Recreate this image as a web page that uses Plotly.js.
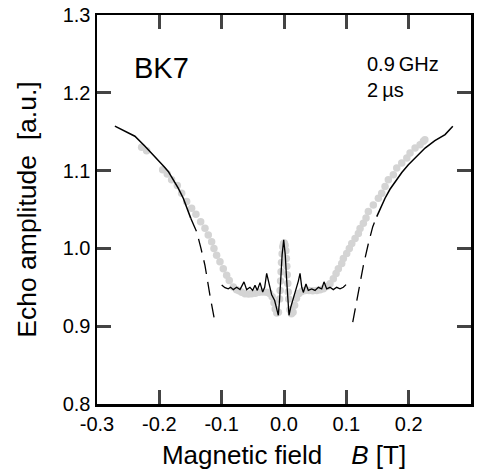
<!DOCTYPE html>
<html>
<head>
<meta charset="utf-8">
<script src="https://cdn.plot.ly/plotly-3.0.1.min.js"></script>
<style>html,body{margin:0;padding:0;background:#fff;}#chart{width:484px;height:472px;}</style>
</head>
<body>
<div id="chart"></div>
<script>
// Measured echo amplitude (grey dots)
const dotsB = [-0.2284,-0.2204,-0.1947,-0.1873,-0.1803,-0.1712,-0.1642,-0.1562,-0.1482,-0.1413,-0.1337,-0.1268,-0.1215,-0.1161,-0.1124,-0.1081,-0.1027,-0.0974,-0.0920,-0.0878,-0.0814,-0.0760,-0.0720,-0.0679,-0.0626,-0.0570,-0.0519,-0.0460,-0.0400,-0.0340,-0.0280,-0.0230,-0.0190,
  -0.0160,-0.0140,-0.0115,-0.0090,-0.0070,-0.0062,-0.0055,-0.0047,-0.0040,-0.0030,-0.0020,-0.0008,0.0005,0.0018,0.0030,0.0038,0.0045,0.0052,0.0060,0.0068,0.0075,0.0095,0.0120,0.0145,0.0170,0.0200,
  0.0240,0.0290,0.0340,0.0400,0.0460,0.0525,0.0580,0.0631,0.0690,0.0738,0.0791,0.0835,0.0872,0.0926,0.0952,0.1006,0.1048,0.1087,0.1140,0.1193,0.1220,0.1273,0.1316,0.1353,0.1433,0.1514,0.1568,0.1621,0.1674,0.1754,0.1809,0.1889,0.1970,0.2022,0.2103,0.2183,0.2236,0.2260];
const dotsAmp = [1.1300,1.1256,1.1010,1.0955,1.0881,1.0809,1.0710,1.0602,1.0516,1.0438,1.0344,1.0258,1.0171,1.0085,1.0000,0.9912,0.9827,0.9740,0.9654,0.9589,0.9504,0.9470,0.9455,0.9435,0.9417,0.9415,0.9417,0.9425,0.9435,0.9440,0.9435,0.9420,0.9380,
  0.9300,0.9220,0.9170,0.9180,0.9350,0.9460,0.9580,0.9700,0.9820,0.9930,1.0020,1.0060,1.0070,1.0040,0.9970,0.9870,0.9770,0.9660,0.9550,0.9440,0.9350,0.9210,0.9160,0.9180,0.9270,0.9360,
  0.9420,0.9450,0.9460,0.9460,0.9455,0.9460,0.9470,0.9482,0.9510,0.9547,0.9611,0.9676,0.9740,0.9805,0.9870,0.9934,0.9999,1.0063,1.0128,1.0193,1.0257,1.0322,1.0390,1.0473,1.0558,1.0645,1.0709,1.0796,1.0881,1.0946,1.1032,1.1097,1.1161,1.1226,1.1291,1.1333,1.1377,1.1398];

// Theory, high-field part (solid), left and right branches separated by null
const thSolidB = [-0.2713,-0.2550,-0.2392,-0.2230,-0.2071,-0.1930,-0.1857,-0.1777,-0.1697,-0.1616,-0.1550,-0.1495, null,
  0.1488,0.1550,0.1621,0.1700,0.1782,0.1890,0.1995,0.2130,0.2263,0.2420,0.2584,0.2708];
const thSolidAmp = [1.1571,1.1508,1.1442,1.1312,1.1183,1.1056,1.0990,1.0890,1.0774,1.0645,1.0500,1.0386, null,
  1.0408,1.0530,1.0645,1.0760,1.0860,1.0975,1.1075,1.1190,1.1290,1.1385,1.1463,1.1570];

// Theory, extrapolated part (dashed)
const thDashB = [-0.1495,-0.1401,-0.1335,-0.1268,-0.1188,-0.1108, null, 0.1103,0.1190,0.1273,0.1350,0.1424,0.1488];
const thDashAmp = [1.0386,1.0214,1.0010,0.9783,0.9395,0.9052, null, 0.9052,0.9420,0.9780,1.0050,1.0279,1.0408];

// Theory, low-field oscillating part
const thLowB = [-0.1000,-0.0947,-0.0894,-0.0856,-0.0813,-0.0760,-0.0706,-0.0642,-0.0599,-0.0546,-0.0503,-0.0465,-0.0428,-0.0385,-0.0342,-0.0310,-0.0278,-0.0250,-0.0225,-0.0198,-0.0150,-0.0118,-0.0091,-0.0070,-0.0053,-0.0030,-0.0005,
  0.0020,0.0040,0.0060,0.0080,0.0107,0.0140,0.0177,0.0205,0.0230,0.0257,0.0285,0.0310,0.0353,0.0390,0.0444,0.0498,0.0551,0.0605,0.0642,0.0685,0.0738,0.0791,0.0845,0.0899,0.0952,0.0995];
const thLowAmp = [0.9530,0.9495,0.9480,0.9500,0.9470,0.9500,0.9470,0.9570,0.9470,0.9500,0.9460,0.9525,0.9460,0.9560,0.9440,0.9500,0.9680,0.9580,0.9480,0.9405,0.9330,0.9240,0.9140,0.9350,0.9628,0.9920,1.0110,
  0.9920,0.9628,0.9350,0.9140,0.9240,0.9330,0.9405,0.9480,0.9580,0.9680,0.9500,0.9434,0.9543,0.9460,0.9480,0.9460,0.9500,0.9480,0.9570,0.9480,0.9500,0.9470,0.9500,0.9480,0.9500,0.9534];

const xTickVals = [-0.3,-0.2,-0.1,0.0,0.1,0.2,0.3];
const xTickText = ['-0.3','-0.2','-0.1','0.0','0.1','0.2','0.3'];
const yTickVals = [0.8,0.9,1.0,1.1,1.2,1.3];
const yTickText = ['0.8','0.9','1.0','1.1','1.2','1.3'];

const FONT = 'Liberation Sans, Arial, Helvetica, sans-serif';

const traces = [
  {x: dotsB, y: dotsAmp, mode: 'markers', type: 'scatter',
   marker: {color: '#d4d4d4', size: 7.5, line: {width: 0}}, hoverinfo: 'skip'},
  {x: thSolidB, y: thSolidAmp, mode: 'lines', type: 'scatter',
   line: {color: '#000', width: 1.5}, connectgaps: false},
  {x: thDashB, y: thDashAmp, mode: 'lines', type: 'scatter',
   line: {color: '#000', width: 1.3, dash: '14px,8px'}, connectgaps: false},
  {x: thLowB, y: thLowAmp, mode: 'lines', type: 'scatter',
   line: {color: '#000', width: 1.3}}
];

const axisCommon = {
  showgrid: false, zeroline: false, showline: true, linecolor: '#000', linewidth: 2.5,
  mirror: 'ticks', ticks: 'inside', ticklen: 14, tickwidth: 3, tickcolor: '#444',
  tickfont: {family: FONT, size: 20, color: '#000'}, tickmode: 'array', fixedrange: true
};

const layout = {
  width: 484, height: 472,
  margin: {l: 97, r: 13, t: 15, b: 68},
  paper_bgcolor: '#fff', plot_bgcolor: '#fff',
  showlegend: false,
  font: {family: FONT, color: '#000'},
  xaxis: Object.assign({}, axisCommon, {
    range: [-0.3, 0.3], tickvals: xTickVals, ticktext: xTickText,
    title: {text: 'Magnetic field\u00a0\u00a0\u00a0\u00a0<i>B</i> [T]', font: {family: FONT, size: 26, color: '#000'}, standoff: 13}
  }),
  yaxis: Object.assign({}, axisCommon, {
    range: [0.8, 1.3], tickvals: yTickVals, ticktext: yTickText,
    title: {text: 'Echo amplitude\u00a0\u00a0[a.u.]', font: {family: FONT, size: 26.5, color: '#000'}, standoff: 19}
  }),
  annotations: [
    {xref: 'x', yref: 'y', x: -0.244, y: 1.232, xanchor: 'left', yanchor: 'middle',
     text: 'BK7', showarrow: false, font: {family: FONT, size: 29, color: '#000'}},
    {xref: 'x', yref: 'y', x: 0.130, y: 1.254, xanchor: 'left', yanchor: 'top', align: 'left',
     text: '0.9\u2009GHz<br>2\u2009\u00b5s', showarrow: false, font: {family: FONT, size: 20, color: '#000'}}
  ]
};

Plotly.newPlot('chart', traces, layout, {staticPlot: true, displayModeBar: false});
</script>
</body>
</html>
